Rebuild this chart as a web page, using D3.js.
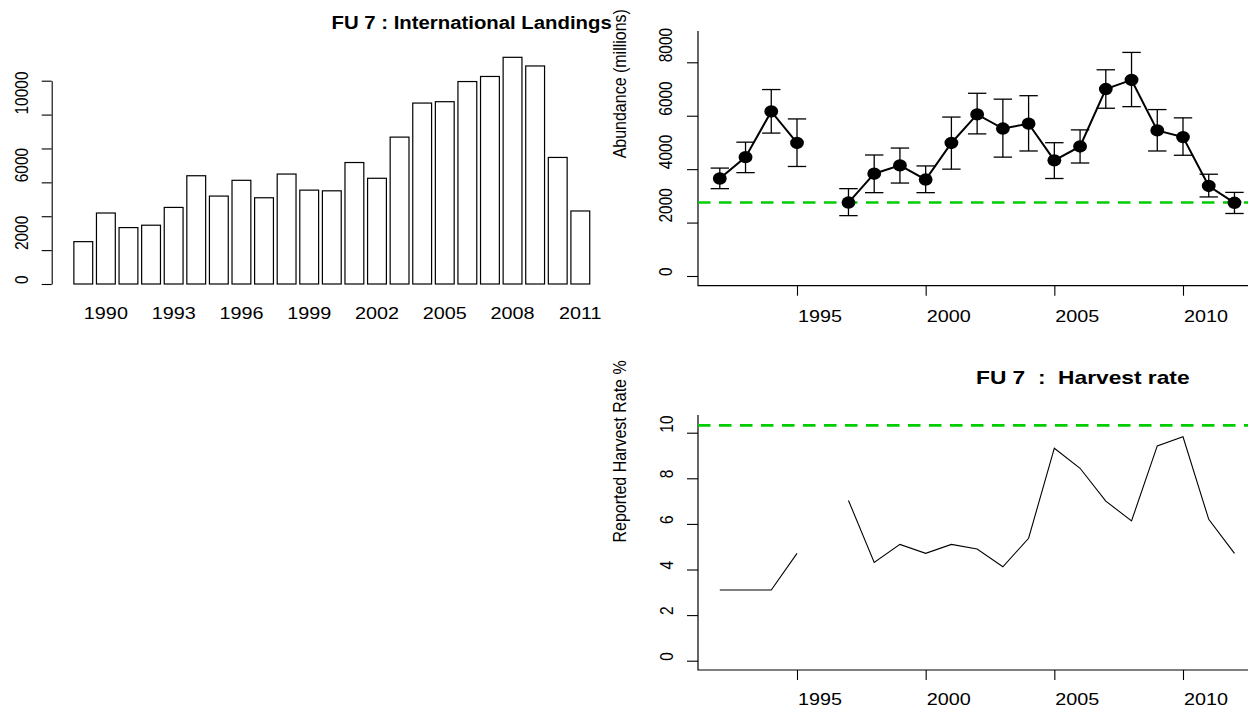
<!DOCTYPE html>
<html>
<head>
<meta charset="utf-8">
<script src="https://cdn.jsdelivr.net/npm/d3@7/dist/d3.min.js"></script>
<style>
  body { margin: 0; background: #fff; }
  text { font-family: "Liberation Sans", Arial, Helvetica, sans-serif; fill: #000; white-space: pre; }
</style>
</head>
<body>
<svg id="chart" width="1248" height="706"></svg>
<script>
//////////////////////////////////////////////////////////////////////////
//  DATA
//////////////////////////////////////////////////////////////////////////

// FU 7 : International Landings (bar chart)
var landYears = [1989, 1990, 1991, 1992, 1993, 1994, 1995, 1996, 1997, 1998, 1999, 2000,
                 2001, 2002, 2003, 2004, 2005, 2006, 2007, 2008, 2009, 2010, 2011];
var landings = [2500, 4190, 3330, 3470, 4520, 6390, 5190, 6120, 5090, 6490, 5540, 5500,
                7170, 6240, 8670, 10680, 10760, 11950, 12250, 13380, 12870, 7470, 4310];
var landXLabels = ["1990", "1993", "1996", "1999", "2002", "2005", "2008", "2011"];
var landYTicks = [0, 2000, 4000, 6000, 8000, 10000, 12000];
var landYLabels = [0, 2000, 6000, 10000];   // the others were dropped by R (overlap)

// survey abundance with confidence interval (no survey in 1996)
var surveyYears = [1992, 1993, 1994, 1995, 1996, 1997, 1998, 1999, 2000, 2001, 2002,
                   2003, 2004, 2005, 2006, 2007, 2008, 2009, 2010, 2011, 2012];
var abundance = [3650, 4450, 6160, 4980, null, 2750, 3830, 4140, 3610, 4980, 6050,
                 5520, 5700, 4330, 4850, 7000, 7340, 5450, 5200, 3370, 2740];
var abundLow  = [3270, 3870, 5350, 4100, null, 2260, 3120, 3480, 3120, 4000, 5320,
                 4450, 4680, 3650, 4230, 6280, 6340, 4680, 4520, 2960, 2340];
var abundHigh = [4040, 5010, 6980, 5880, null, 3270, 4530, 4790, 4120, 5950, 6840,
                 6620, 6750, 4990, 5470, 7720, 8370, 6230, 5920, 3810, 3130];
var abundRef = 2750;
var abundYTicks = [0, 2000, 4000, 6000, 8000];

// harvest rate %
var harvestRate = [3.1, 3.1, 3.1, 4.71, null, 7.03, 4.31, 5.10, 4.71, 5.10, 4.90,
                   4.12, 5.37, 9.32, 8.44, 7.00, 6.13, 9.42, 9.82, 6.20, 4.71];
var harvestRef = 10.32;
var harvestYTicks = [0, 2, 4, 6, 8, 10];

var yearTicks = [1995, 2000, 2005, 2010];

var titles = {
	landings: "FU 7 : International Landings",
	abundance: "FU 7  :  UWTV abundance",
	harvest: "FU 7  :  Harvest rate"
};


//////////////////////////////////////////////////////////////////////////
//  HELPERS
//////////////////////////////////////////////////////////////////////////

var svg = d3.select("#chart");
svg.append("rect").attr("width", 1248).attr("height", 706).attr("fill", "#fff");

// the original picture is stretched sideways, so horizontal text is wider
var SX = 1.2;          // axis labels
var SX_MAIN = 1.1;     // titles
var FONT = 16.5;       // horizontal tick labels
var FONT_V = 15.5;     // rotated tick labels
var FONT_LAB = 16;     // rotated axis titles
var FONT_MAIN = 18.5;  // bold titles
var GREEN = "#00cd00";

// horizontal text
function hText(g, x, y, str, size, anchor, bold, sx) {
	return g.append("text")
		.attr("transform", "translate(" + x + "," + y + ") scale(" + (sx || SX) + ",1)")
		.attr("text-anchor", anchor)
		.style("font-size", size + "px")
		.style("font-weight", bold ? "bold" : "normal")
		.text(str);
}

// text reading bottom to top
function vText(g, x, y, str, size, anchor) {
	return g.append("text")
		.attr("transform", "translate(" + x + "," + y + ") rotate(-90) scale(1," + SX + ")")
		.attr("text-anchor", anchor)
		.attr("dy", "0.36em")
		.style("font-size", size + "px")
		.text(str);
}

function styleAxis(g) {
	g.select(".domain").remove();
	g.selectAll(".tick line").attr("stroke", "#000").attr("stroke-width", 1.1);
}


//////////////////////////////////////////////////////////////////////////
//  PANEL 1 : landings bar chart
//////////////////////////////////////////////////////////////////////////

var gLand = svg.append("g");

var xBand = d3.scaleBand()
	.domain(landYears)
	.range([70.1, 593.5])
	.paddingInner(1 / 6)
	.paddingOuter(1 / 6);
var yLand = d3.scaleLinear().domain([0, 12000]).range([284, 80.7]);

gLand.selectAll(".bar")
	.data(landings)
	.enter()
	.append("rect")
	.attr("class", "bar")
	.attr("x", function(d, i) { return xBand(landYears[i]); })
	.attr("width", xBand.bandwidth())
	.attr("y", function(d) { return yLand(d); })
	.attr("height", function(d) { return yLand(0) - yLand(d); })
	.attr("fill", "#fff")
	.attr("stroke", "#000")
	.attr("stroke-width", 1.2);

var landAxis = gLand.append("g")
	.attr("transform", "translate(51.7,0)")
	.call(d3.axisLeft(yLand).tickValues(landYTicks).tickSize(10).tickSizeOuter(0).tickFormat(""));
landAxis.select(".domain").attr("stroke", "#000").attr("stroke-width", 1.1);
landAxis.selectAll(".tick line").attr("stroke", "#000").attr("stroke-width", 1.1);

landYLabels.forEach(function(v) {
	vText(gLand, 21, yLand(v), String(v), FONT_V, "start");
});
landXLabels.forEach(function(lab) {
	hText(gLand, xBand(+lab) + xBand.bandwidth() / 2, 313.3, lab, FONT, "middle")
		.attr("dy", "0.36em");
});
hText(gLand, 331.5, 29.4, titles.landings, FONT_MAIN, "start", true, SX_MAIN);


//////////////////////////////////////////////////////////////////////////
//  PANEL 2 : survey abundance
//////////////////////////////////////////////////////////////////////////

var gAb = svg.append("g");
var xYear = d3.scaleLinear().domain([1995, 2010]).range([797, 1183]);
var yAb = d3.scaleLinear().domain([0, 8000]).range([276, 62.3]);

var abTop = 31, abBottom = 285.7, boxLeft = 698;

gAb.append("path")
	.attr("d", "M" + boxLeft + "," + abTop + "V" + abBottom + "H1260")
	.attr("fill", "none").attr("stroke", "#000").attr("stroke-width", 1.2);

gAb.append("g")
	.attr("transform", "translate(" + boxLeft + ",0)")
	.call(d3.axisLeft(yAb).tickValues(abundYTicks).tickSize(11).tickFormat(""))
	.call(styleAxis);
gAb.append("g")
	.attr("transform", "translate(0," + abBottom + ")")
	.call(d3.axisBottom(xYear).tickValues(yearTicks).tickSize(10).tickFormat(""))
	.call(styleAxis);

abundYTicks.forEach(function(v) {
	vText(gAb, 665, yAb(v), String(v), FONT_V, "start");
});
yearTicks.forEach(function(v) {
	hText(gAb, xYear(v) + 1, abBottom + 30, String(v), FONT, "start").attr("dy", "0.36em");
});
vText(gAb, 619, (abTop + abBottom) / 2, "Abundance (millions)", FONT_LAB, "start");
hText(gAb, (boxLeft + 1254) / 2, -0.4, titles.abundance, FONT_MAIN, "start", true, 1.2);

// reference level
gAb.append("line")
	.attr("x1", boxLeft).attr("x2", 1260)
	.attr("y1", yAb(abundRef)).attr("y2", yAb(abundRef))
	.attr("stroke", GREEN).attr("stroke-width", 2.6)
	.attr("stroke-dasharray", "12.5,8.5");

// error bars
var capHalf = 9.2;
var ci = surveyYears.map(function(y, i) {
	return { year: y, low: abundLow[i], high: abundHigh[i] };
}).filter(function(d) { return d.low != null; });

var eb = gAb.selectAll(".ebar").data(ci).enter().append("g").attr("class", "ebar")
	.attr("stroke", "#000").attr("stroke-width", 1.3);
eb.append("line")
	.attr("x1", function(d) { return xYear(d.year); })
	.attr("x2", function(d) { return xYear(d.year); })
	.attr("y1", function(d) { return yAb(d.low); })
	.attr("y2", function(d) { return yAb(d.high); });
eb.append("line")
	.attr("x1", function(d) { return xYear(d.year) - capHalf; })
	.attr("x2", function(d) { return xYear(d.year) + capHalf; })
	.attr("y1", function(d) { return yAb(d.low); })
	.attr("y2", function(d) { return yAb(d.low); });
eb.append("line")
	.attr("x1", function(d) { return xYear(d.year) - capHalf; })
	.attr("x2", function(d) { return xYear(d.year) + capHalf; })
	.attr("y1", function(d) { return yAb(d.high); })
	.attr("y2", function(d) { return yAb(d.high); });

var abLine = d3.line()
	.defined(function(d) { return d != null; })
	.x(function(d, i) { return xYear(surveyYears[i]); })
	.y(function(d) { return yAb(d); });
gAb.append("path")
	.attr("d", abLine(abundance))
	.attr("fill", "none").attr("stroke", "#000").attr("stroke-width", 2);

var pts = surveyYears.map(function(y, i) { return { year: y, value: abundance[i] }; })
	.filter(function(d) { return d.value != null; });
gAb.selectAll(".dot")
	.data(pts)
	.enter()
	.append("ellipse")
	.attr("class", "dot")
	.attr("cx", function(d) { return xYear(d.year); })
	.attr("cy", function(d) { return yAb(d.value); })
	.attr("rx", 6.9).attr("ry", 6.2)
	.attr("fill", "#000");


//////////////////////////////////////////////////////////////////////////
//  PANEL 3 : harvest rate
//////////////////////////////////////////////////////////////////////////

var gHr = svg.append("g");
var yHr = d3.scaleLinear().domain([0, 10]).range([660.7, 432.7]);
var hrTop = 415, hrBottom = 670;

gHr.append("path")
	.attr("d", "M" + boxLeft + "," + hrTop + "V" + hrBottom + "H1260")
	.attr("fill", "none").attr("stroke", "#000").attr("stroke-width", 1.2);

gHr.append("g")
	.attr("transform", "translate(" + boxLeft + ",0)")
	.call(d3.axisLeft(yHr).tickValues(harvestYTicks).tickSize(11).tickFormat(""))
	.call(styleAxis);
gHr.append("g")
	.attr("transform", "translate(0," + hrBottom + ")")
	.call(d3.axisBottom(xYear).tickValues(yearTicks).tickSize(10).tickFormat(""))
	.call(styleAxis);

harvestYTicks.forEach(function(v) {
	vText(gHr, 666, yHr(v), String(v), FONT_V, "start");
});
yearTicks.forEach(function(v) {
	hText(gHr, xYear(v) + 1, hrBottom + 29.5, String(v), FONT, "start").attr("dy", "0.36em");
});
vText(gHr, 619, (hrTop + hrBottom) / 2, "Reported Harvest Rate %", FONT_LAB, "start");
hText(gHr, (boxLeft + 1254) / 2, 384.4, titles.harvest, FONT_MAIN, "start", true, 1.23);

gHr.append("line")
	.attr("x1", boxLeft).attr("x2", 1260)
	.attr("y1", yHr(harvestRef)).attr("y2", yHr(harvestRef))
	.attr("stroke", GREEN).attr("stroke-width", 2.6)
	.attr("stroke-dasharray", "12.5,8.5");

var hrLine = d3.line()
	.defined(function(d) { return d != null; })
	.x(function(d, i) { return xYear(surveyYears[i]); })
	.y(function(d) { return yHr(d); });
gHr.append("path")
	.attr("d", hrLine(harvestRate))
	.attr("fill", "none").attr("stroke", "#000").attr("stroke-width", 1.1);
</script>
</body>
</html>
